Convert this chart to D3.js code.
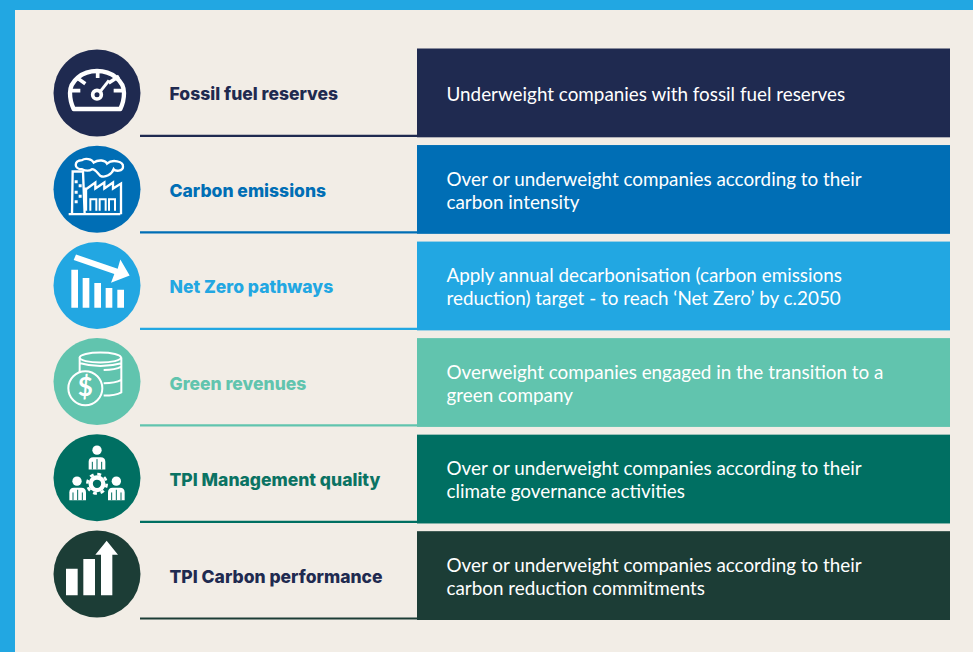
<!DOCTYPE html>
<html>
<head>
<meta charset="utf-8">
<script src="https://cdn.jsdelivr.net/npm/d3@7"></script>
<style>
html, body { margin: 0; padding: 0; background: #f2ede6; }
svg { display: block; }
</style>
</head>
<body>
<div id="chart"></div>
<script>
const w = 973, h = 652;

const labels = ["Fossil fuel reserves", "Carbon emissions", "Net Zero pathways", "Green revenues", "TPI Management quality", "TPI Carbon performance"];
const descriptions = [
    ["Underweight companies with fossil fuel reserves"],
    ["Over or underweight companies according to their", "carbon intensity"],
    ["Apply annual decarbonisation (carbon emissions", "reduction) target - to reach ‘Net Zero’ by c.2050"],
    ["Overweight companies engaged in the transition to a", "green company"],
    ["Over or underweight companies according to their", "climate governance activities"],
    ["Over or underweight companies according to their", "carbon reduction commitments"]
];
const colors = ["#1f2a50", "#006eb5", "#22a7e2", "#61c4ae", "#006f62", "#1c3d36"];
const labelColors = ["#1f2a50", "#006eb5", "#22a7e2", "#61c4ae", "#0b7363", "#1f2a50"];

const svg = d3.select("#chart")
    .append("svg")
    .attr("width", w)
    .attr("height", h)
    .attr("viewBox", [0, 0, w, h]);

const sky = "#22a7e2", paper = "#f2ede6";

// frame
svg.append("rect").attr("width", w).attr("height", h).attr("fill", sky);
svg.append("rect").attr("x", 15).attr("y", 10).attr("width", w - 15).attr("height", h - 10).attr("fill", paper);

const y = d3.scaleBand(labels, [48.5, 620]).paddingInner(0.08);
const yIcon = d3.scalePoint(labels, [93, 574]);
const color = d3.scaleOrdinal(labels, colors);
const labelColor = d3.scaleOrdinal(labels, labelColors);

const rows = svg.append("g")
    .selectAll("g")
    .data(labels)
    .join("g");

rows.append("rect")
    .attr("x", 417)
    .attr("y", d => y(d))
    .attr("width", 533)
    .attr("height", y.bandwidth())
    .attr("fill", d => color(d));

rows.append("line")
    .attr("x1", 140)
    .attr("x2", 417)
    .attr("y1", d => y(d) + y.bandwidth() - 1.5)
    .attr("y2", d => y(d) + y.bandwidth() - 1.5)
    .attr("stroke", d => color(d))
    .attr("stroke-width", 2.2);

rows.append("circle")
    .attr("cx", 97)
    .attr("cy", d => yIcon(d))
    .attr("r", 43.5)
    .attr("fill", d => color(d));

rows.append("text")
    .attr("x", 169.5)
    .attr("y", d => y(d) + y.bandwidth() / 2 + 2.5)
    .attr("dominant-baseline", "middle")
    .attr("font-family", "Inter")
    .attr("font-weight", 800)
    .attr("font-size", 17.5)
    .attr("fill", d => labelColor(d))
    .text(d => d);

rows.each(function(d, i) {
    const lines = descriptions[i];
    const mid = y(d) + y.bandwidth() / 2 + 3;
    d3.select(this).selectAll("text.desc")
        .data(lines)
        .join("text")
        .attr("class", "desc")
        .attr("x", 446.5)
        .attr("y", (l, j) => mid + (j - (lines.length - 1) / 2) * 23)
        .attr("dominant-baseline", "middle")
        .attr("font-family", "Lato")
        .attr("font-size", 18.85)
        .attr("fill", "#fff")
        .text(l => l);
});

// icons are drawn at 3x around their own centre, then scaled down
const icons = [
    g => {
        g.append("path").attr("d", "M100,198 H240 Q251,175 251,150 A81,66 0 0 0 89,150 Q89,175 100,198 Z")
            .attr("fill", "none").attr("stroke", "#fff").attr("stroke-width", 13).attr("stroke-linejoin", "round");
        g.append("path").attr("d", "M172,85 V105 M115,108 L135,122 M88,143 H120 M220,143 H250 M205,120 L236,100")
            .attr("stroke", "#fff").attr("stroke-width", 11);
        g.append("path").attr("d", "M180,145 L206,112").attr("stroke", "#fff").attr("stroke-width", 9);
        g.append("circle").attr("cx", 170).attr("cy", 155).attr("r", 13)
            .attr("fill", "none").attr("stroke", "#fff").attr("stroke-width", 11);
    },
    g => {
        g.attr("transform", g.attr("transform") + " translate(0,-295)");
        g.append("path").attr("d", "M85,520 H240 M95,520 L97,392 H128 L133,520 M137,440 V510 M137,445 L165,425 V443 L192,425 V443 L218,425 V443 L242,428 V520")
            .attr("fill", "none").attr("stroke", "#fff").attr("stroke-width", 7);
        g.append("path").attr("d", "M150,510 V475 H168 V510 M178,510 V475 H196 V510 M206,510 V475 H224 V510")
            .attr("fill", "none").attr("stroke", "#fff").attr("stroke-width", 6);
        g.append("path").attr("d", "M103,418 h9 v9 h-9 z M115,430 h9 v9 h-9 z M103,450 h9 v9 h-9 z M115,462 h9 v9 h-9 z M103,478 h9 v9 h-9 z")
            .attr("fill", "#fff");
        g.append("path").attr("d", "M125,385 C100,385 100,360 125,358 C135,350 155,355 160,365 C175,355 195,358 200,368 C215,355 250,360 248,378 C248,392 225,392 220,385 C215,400 195,412 180,405 C170,395 165,385 155,385 C145,392 135,390 125,385 Z")
            .attr("fill", "none").attr("stroke", "#fff").attr("stroke-width", 7);
    },
    g => {
        g.append("path").attr("d", "M93,103 h20 V217 h-20 z M127,128 h20 V217 h-20 z M162,143 h20 V217 h-20 z M196,158 h20 V217 h-20 z M231,163 h20 V217 h-20 z")
            .attr("fill", "#fff");
        g.append("path").attr("d", "M107,57 L232,100 L240,72 L268,120 L212,142 L222,116 L100,74 Z").attr("fill", "#fff");
    },
    g => {
        g.attr("transform", g.attr("transform") + " translate(0,-290)");
        g.append("path").attr("d", "M118,368 V420 M243,368 V472 Q225,482 190,482 M190,405 Q225,405 243,395 M190,445 Q225,445 243,435 M120,385 Q180,402 243,385")
            .attr("fill", "none").attr("stroke", "#fff").attr("stroke-width", 6);
        g.append("ellipse").attr("cx", 180).attr("cy", 368).attr("rx", 62).attr("ry", 15)
            .attr("fill", "none").attr("stroke", "#fff").attr("stroke-width", 6);
        g.append("circle").attr("cx", 135).attr("cy", 460).attr("r", 51)
            .attr("fill", colors[3]).attr("stroke", "#fff").attr("stroke-width", 6);
        g.append("text").attr("x", 135).attr("y", 462)
            .attr("text-anchor", "middle").attr("dominant-baseline", "middle")
            .attr("font-family", "Lato").attr("font-weight", 700).attr("font-size", 78).attr("fill", "#fff").text("$");
    },
    g => {
        const people = [[170, 67, 145, 88], [110, 160, 87, 180], [228, 160, 203, 180]];
        for (const [hx, hy, bx, by] of people) {
            g.append("circle").attr("cx", hx).attr("cy", hy).attr("r", 14).attr("fill", "#fff");
            g.append("path").attr("d", `M${bx},${by + 37} V${by + 14} Q${bx},${by} ${bx + 14},${by} H${bx + 36} Q${bx + 50},${by} ${bx + 50},${by + 14} V${by + 37} Z`)
                .attr("fill", "#fff");
            g.append("path").attr("d", `M${bx + 11},${by + 14} V${by + 37} M${bx + 25},${by + 6} V${by + 37} M${bx + 39},${by + 14} V${by + 37}`)
                .attr("stroke", colors[4]).attr("stroke-width", 3);
        }
        g.append("circle").attr("cx", 170).attr("cy", 168).attr("r", 19)
            .attr("fill", "none").attr("stroke", "#fff").attr("stroke-width", 13);
        g.append("circle").attr("cx", 170).attr("cy", 168).attr("r", 29)
            .attr("fill", "none").attr("stroke", "#fff").attr("stroke-width", 8)
            .attr("stroke-dasharray", "11.6 11.17");
    },
    g => {
        g.attr("transform", g.attr("transform") + " translate(0,-283)");
        g.append("path").attr("d", "M77,417 h35 V497 h-35 z M129,388 h35 V497 h-35 z M182,375 h34 V497 h-34 z M165,375 L199,333 L233,375 Z")
            .attr("fill", "#fff");
    }
];

rows.each(function(d, i) {
    const g = d3.select(this).append("g")
        .attr("transform", `translate(97,${yIcon(d)}) scale(${1 / 3}) translate(-170,-150)`);
    icons[i](g);
});
</script>
</body>
</html>
